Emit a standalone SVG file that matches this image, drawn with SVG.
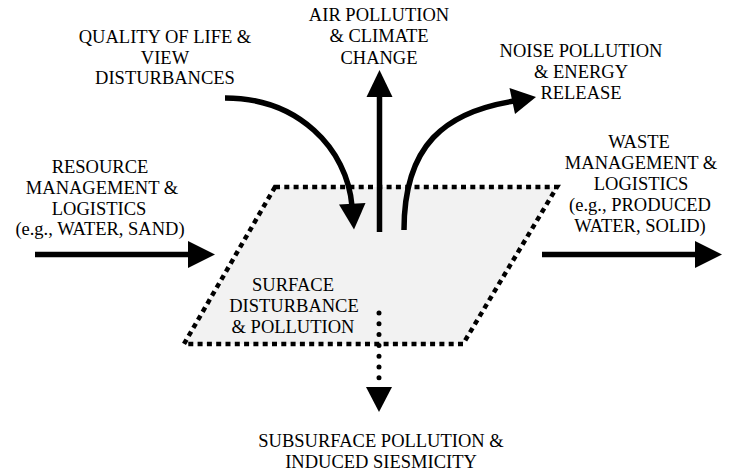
<svg xmlns="http://www.w3.org/2000/svg" width="730" height="471" viewBox="0 0 730 471">
  <style>
    text { font-family: "Liberation Serif", "Times New Roman", serif; font-size: 18.5px; fill: #000; text-anchor: middle; }
    .flow { fill: none; stroke: #000; stroke-width: 5.5; }
    .dots { fill: none; stroke: #000; stroke-width: 5; stroke-linecap: round; stroke-dasharray: 0 10.8; }
    .head { fill: #000; stroke: none; }
    .site { fill: #f2f2f2; stroke: #000; stroke-width: 4.5; stroke-dasharray: 5 4.3; }
  </style>

  <!-- central surface site -->
  <g id="surface">
    <polygon class="site" points="275,187 557,187 463,344 184,344"/>
    <text x="293" y="290.5">SURFACE</text>
    <text x="294" y="312">DISTURBANCE</text>
    <text x="293" y="333">&amp; POLLUTION</text>
  </g>

  <g id="quality">
    <text x="165" y="43.3">QUALITY OF LIFE &amp;</text>
    <text x="165" y="63.8">VIEW</text>
    <text x="165" y="84.3">DISTURBANCES</text>
  </g>

  <g id="air">
    <text x="379" y="20.7">AIR POLLUTION</text>
    <text x="379" y="42.3">&amp; CLIMATE</text>
    <text x="379" y="64">CHANGE</text>
  </g>

  <g id="noise">
    <text x="581" y="56.7">NOISE POLLUTION</text>
    <text x="581" y="78">&amp; ENERGY</text>
    <text x="581" y="99.3">RELEASE</text>
  </g>

  <g id="resource">
    <text x="100" y="173.3">RESOURCE</text>
    <text x="102" y="194">MANAGEMENT &amp;</text>
    <text x="99" y="214.7">LOGISTICS</text>
    <text x="100" y="235.3">(e.g., WATER, SAND)</text>
  </g>

  <g id="waste">
    <text x="639" y="148.3">WASTE</text>
    <text x="641" y="169.3">MANAGEMENT &amp;</text>
    <text x="641" y="190">LOGISTICS</text>
    <text x="640" y="211">(e.g., PRODUCED</text>
    <text x="640" y="232.3">WATER, SOLID)</text>
  </g>

  <g id="subsurface">
    <text x="381" y="446.7">SUBSURFACE POLLUTION &amp;</text>
    <text x="381" y="467.5">INDUCED SIESMICITY</text>
  </g>

  <!-- flows in and out of the site -->
  <g id="connectors">
    <!-- resource inflow -->
    <line class="flow" x1="35" y1="254.5" x2="190" y2="254.5"/>
    <polygon class="head" points="188,241 188,268 215,254.5"/>

    <!-- waste outflow -->
    <line class="flow" x1="542" y1="254.5" x2="697" y2="254.5"/>
    <polygon class="head" points="695,241 695,268 722,254.5"/>

    <!-- quality of life impact -->
    <path class="flow" d="M225,98 C298,98 347,148 352,206"/>
    <polygon class="head" points="339,204.5 365.5,203 354,229.5"/>

    <!-- air emissions -->
    <line class="flow" x1="379.5" y1="232" x2="379.5" y2="95"/>
    <polygon class="head" points="366.5,97 392.5,97 379.5,70"/>

    <!-- noise and energy release -->
    <path class="flow" d="M404,230 C404,145 445,112 514,101"/>
    <polygon class="head" points="509.5,88 515,114 536,97"/>

    <!-- subsurface pathway -->
    <line class="dots" x1="379" y1="313" x2="379" y2="379"/>
    <polygon class="head" points="366,387 392,387 379,412"/>
  </g>
</svg>
